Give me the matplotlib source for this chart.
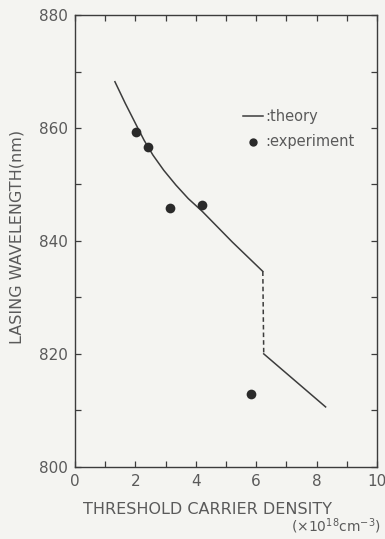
import matplotlib
matplotlib.use("Agg")
import matplotlib.pyplot as plt
from matplotlib.ticker import MultipleLocator

# theory curve (upper branch, jump, lower branch)
theory_x = [1.32, 1.66, 2.03, 2.29, 2.58, 2.94, 3.34, 3.75, 4.22, 5.21, 6.22]
theory_y = [868.2, 864.4, 860.5, 857.8, 855.2, 852.5, 849.9, 847.5, 845.2, 839.8, 834.6]
jump_x = [6.22, 6.25]
jump_y = [834.6, 820.0]
lower_x = [6.25, 8.3]
lower_y = [820.0, 810.6]

# measured points
exp_x = [2.03, 2.43, 3.13, 4.22, 5.82]
exp_y = [859.3, 856.7, 845.9, 846.4, 812.9]

ink = "#3c3c3c"
txt = "#5a5a5a"
bg = "#f4f4f1"

plt.rcParams['font.family'] = ['DejaVu Sans']
fig = plt.figure(figsize=(3.85, 5.39), dpi=100, facecolor=bg)
ax = fig.add_axes([0.195, 0.134, 0.784, 0.838], facecolor=bg)

ax.plot(theory_x, theory_y, color=ink, lw=1.1)
ax.plot(jump_x, jump_y, color=ink, lw=1.1, dashes=(3, 2))
ax.plot(lower_x, lower_y, color=ink, lw=1.1)
ax.plot(exp_x, exp_y, 'o', color="#2a2a2a", ms=7, mec="none")

ax.set_xlim(0, 10)
ax.set_ylim(800, 880)
ax.xaxis.set_major_locator(MultipleLocator(2))
ax.xaxis.set_minor_locator(MultipleLocator(1))
ax.yaxis.set_major_locator(MultipleLocator(20))
ax.yaxis.set_minor_locator(MultipleLocator(10))
ax.tick_params(which='both', direction='in', top=True, right=True,
               length=4, width=0.9, color=ink, labelcolor=txt, labelsize=11, pad=5)
for s in ax.spines.values():
    s.set_color(ink)
    s.set_linewidth(1.0)

ax.set_ylabel("LASING WAVELENGTH(nm)", color=txt, fontsize=11.5)
ax.yaxis.set_label_coords(-0.166, 0.509)
ax.set_xlabel("THRESHOLD CARRIER DENSITY", color=txt, fontsize=11.5)
ax.xaxis.set_label_coords(0.44, -0.077)
fig.text(0.99, 0.005, r"$(\times 10^{18}$cm$^{-3})$", color=txt,
         fontsize=10, ha='right', va='bottom')

# hand-drawn legend
ax.plot([5.56, 6.22], [862.1, 862.1], color=ink, lw=1.1)
ax.text(6.3, 862.1, ":theory", color=txt, fontsize=10.5, va='center')
ax.plot([5.9], [857.6], 'o', color="#2a2a2a", ms=6, mec="none")
ax.text(6.3, 857.6, ":experiment", color=txt, fontsize=10.5, va='center')

fig.savefig("out.png", dpi=100, facecolor=bg)
